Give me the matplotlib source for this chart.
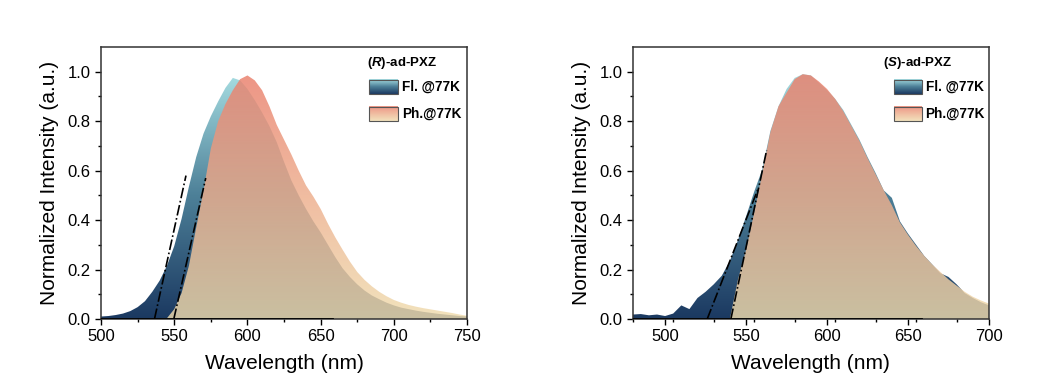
import numpy as np
import matplotlib
matplotlib.use("Agg")
import matplotlib.pyplot as plt
from matplotlib.colors import LinearSegmentedColormap
from matplotlib.patches import Rectangle

plt.rcParams['font.family'] = ['Liberation Sans', 'DejaVu Sans']
plt.rcParams['mathtext.fontset'] = 'custom'
plt.rcParams['mathtext.it'] = 'Liberation Sans:italic:bold'
plt.rcParams['mathtext.rm'] = 'Liberation Sans:bold'

# (R)-ad-PXZ spectra
wl_r = [500, 505, 510, 515, 520, 525, 530, 535, 540, 545, 550, 555, 560, 565, 570,
        575, 580, 585, 590, 595, 600, 605, 610, 615, 620, 625, 630, 635, 640, 645,
        650, 655, 660, 665, 670, 675, 680, 685, 690, 695, 700, 705, 710, 715, 720,
        725, 730, 735, 740, 745, 750]
fl_r = [0.010, 0.012, 0.016, 0.022, 0.032, 0.048, 0.072, 0.110, 0.155, 0.215, 0.295,
        0.405, 0.535, 0.655, 0.750, 0.820, 0.880, 0.935, 0.975, 0.965, 0.930, 0.885,
        0.835, 0.780, 0.715, 0.635, 0.560, 0.500, 0.445, 0.395, 0.350, 0.300, 0.250,
        0.205, 0.170, 0.140, 0.115, 0.095, 0.080, 0.066, 0.055, 0.046, 0.040, 0.034,
        0.029, 0.025, 0.021, 0.018, 0.015, 0.012, 0.010]
ph_r = [0.0, 0.0, 0.0, 0.0, 0.0, 0.0, 0.0, 0.0, 0.0, 0.003, 0.040, 0.105, 0.215,
        0.370, 0.520, 0.690, 0.800, 0.870, 0.925, 0.970, 0.985, 0.965, 0.925, 0.860,
        0.785, 0.725, 0.665, 0.600, 0.540, 0.495, 0.445, 0.385, 0.330, 0.280, 0.232,
        0.190, 0.158, 0.132, 0.110, 0.092, 0.077, 0.066, 0.057, 0.050, 0.044, 0.039,
        0.034, 0.029, 0.024, 0.018, 0.013]

# (S)-ad-PXZ spectra
wl_fl_s = [480, 485, 490, 495, 500, 505, 510, 515, 520, 525, 530, 535, 540, 545, 550,
           555, 560, 565, 570, 575, 580, 585, 590, 595, 600, 605, 610, 615, 620, 625,
           630, 635, 640, 645, 650, 655, 660, 665, 670, 675, 680, 685, 690, 695, 700]
fl_s = [0.018, 0.020, 0.015, 0.018, 0.012, 0.022, 0.055, 0.040, 0.085, 0.110, 0.140,
        0.175, 0.235, 0.320, 0.415, 0.515, 0.605, 0.760, 0.860, 0.930, 0.975, 0.990,
        0.985, 0.955, 0.925, 0.890, 0.845, 0.785, 0.725, 0.655, 0.590, 0.520, 0.490,
        0.395, 0.345, 0.300, 0.255, 0.220, 0.185, 0.170, 0.140, 0.105, 0.085, 0.068,
        0.055]
wl_ph_s = [480, 535, 540, 545, 550, 555, 560, 565, 570, 575, 580, 585, 590, 595, 600,
           605, 610, 615, 620, 625, 630, 635, 640, 645, 650, 655, 660, 665, 670, 675,
           680, 685, 690, 695, 700]
ph_s = [0.0, 0.0, 0.0, 0.160, 0.280, 0.430, 0.590, 0.755, 0.860, 0.915, 0.970, 0.990,
        0.985, 0.960, 0.930, 0.890, 0.840, 0.780, 0.720, 0.650, 0.585, 0.520, 0.460,
        0.390, 0.340, 0.295, 0.255, 0.220, 0.190, 0.160, 0.135, 0.110, 0.090, 0.075,
        0.062]

# onset tangents (x0, y0, x1, y1)
tan_r = [(536.5, 0, 558, 0.58), (549.7, 0, 571.5, 0.57)]
tan_s = [(526, 0, 557.6, 0.53), (540.6, 0, 562.7, 0.683)]

fl_cmap = LinearSegmentedColormap.from_list('fl', ['#1b3961', '#4d8098', '#a8dfe3'])
ph_cmap = LinearSegmentedColormap.from_list('ph', ['#f0ddaf', '#edae8d', '#ea7e6b'])
grad = np.linspace(0, 1, 256).reshape(-1, 1)


def grad_fill(ax, x, y, cmap, alpha, z):
    x = np.asarray(x, float)
    poly = ax.fill_between(x, y, 0, facecolor='none', edgecolor='none')
    im = ax.imshow(grad, cmap=cmap, origin='lower', aspect='auto', alpha=alpha,
                   extent=[x.min(), x.max(), 0, 1.0], zorder=z)
    im.set_clip_path(poly.get_paths()[0], transform=ax.transData)


def legend_box(ax, x0, y0, cmap, alpha):
    ax.imshow(grad, cmap=cmap, origin='lower', aspect='auto', alpha=alpha,
              extent=[x0, x0 + 0.078, y0, y0 + 0.052], transform=ax.transAxes, zorder=5)
    ax.add_patch(Rectangle((x0, y0), 0.078, 0.052, transform=ax.transAxes,
                           fill=False, edgecolor='#555555', lw=0.8, zorder=6))


fig = plt.figure(figsize=(10.57, 3.76), dpi=100)
ax1 = fig.add_axes([0.0956, 0.1516, 0.3463, 0.7234])
ax2 = fig.add_axes([0.5986, 0.1516, 0.3371, 0.7234])

panels = [
    (ax1, wl_r, fl_r, wl_r, ph_r, tan_r, (500, 750), [500, 550, 600, 650, 700, 750],
     r'($\mathit{R}$)-ad-PXZ', 0.726),
    (ax2, wl_fl_s, fl_s, wl_ph_s, ph_s, tan_s, (480, 700), [500, 550, 600, 650, 700],
     r'($\mathit{S}$)-ad-PXZ', 0.703),
]

for ax, xf, yf, xp, yp, tans, xlim, xticks, title, tx in panels:
    grad_fill(ax, xf, yf, fl_cmap, 1.0, 1)
    grad_fill(ax, xp, yp, ph_cmap, 0.83, 2)
    for x0, y0, x1, y1 in tans:
        ax.plot([x0, x1], [y0, y1], color='black', ls='-.', lw=1.2, zorder=4)
    ax.plot([xlim[0], 658], [0, 0], color='black', lw=2, zorder=4)

    ax.text(tx, 0.94, title, transform=ax.transAxes, fontsize=9.5, fontweight='bold',
            va='center', ha='left')
    legend_box(ax, 0.733, 0.827, fl_cmap, 1.0)
    legend_box(ax, 0.733, 0.729, ph_cmap, 0.83)
    ax.text(0.822, 0.853, 'Fl. @77K', transform=ax.transAxes, fontsize=9.8,
            fontweight='bold', va='center')
    ax.text(0.822, 0.755, 'Ph.@77K', transform=ax.transAxes, fontsize=9.8,
            fontweight='bold', va='center')

    ax.set_xlim(*xlim)
    ax.set_ylim(0, 1.1)
    ax.set_xticks(xticks)
    ax.set_xticks(np.arange(xlim[0], xlim[1] + 1, 25), minor=True)
    ax.set_yticks([0.0, 0.2, 0.4, 0.6, 0.8, 1.0])
    ax.set_yticks(np.arange(0.1, 1.1, 0.2), minor=True)
    ax.yaxis.set_major_formatter(matplotlib.ticker.FormatStrFormatter('%.1f'))
    ax.tick_params(which='major', direction='out', length=4, width=1, labelsize=12)
    ax.tick_params(which='minor', direction='out', length=2.5, width=1)
    for sp in ax.spines.values():
        sp.set_linewidth(1.1)
        sp.set_color('#333333')
    ax.set_xlabel('Wavelength (nm)', fontsize=15, labelpad=7)
    ax.set_ylabel('Normalized Intensity (a.u.)', fontsize=15, labelpad=6)

fig.savefig('out.png', dpi=100)
